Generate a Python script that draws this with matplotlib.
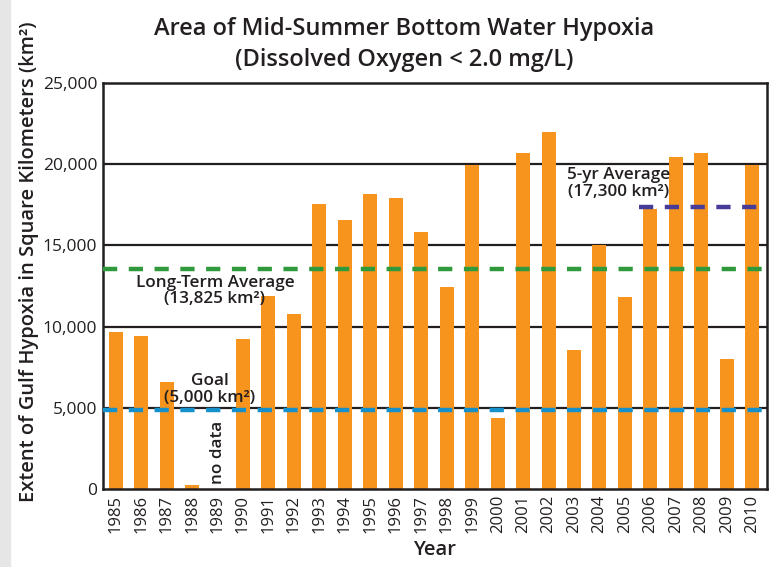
import matplotlib
matplotlib.use("Agg")
import matplotlib.pyplot as plt
import numpy as np

years = [str(y) for y in range(1985, 2011)]
area_km2 = [9700, 9400, 6600, 250, np.nan, 9250, 11900, 10800, 17550, 16550,
            18150, 17900, 15800, 12450, 19950, 4400, 20700, 21950, 8550, 15050,
            11850, 17250, 20450, 20700, 8000, 19950]
long_term_avg = 13550
goal = 4900
five_yr_avg = 17350
five_yr_start = "2006"
yticks = [0, 5000, 10000, 15000, 20000, 25000]
ytick_labels = ["0", "5,000", "10,000", "15,000", "20,000", "25,000"]

FONT = ["Open Sans", "DejaVu Sans"]
plt.rcParams["font.family"] = FONT
TXT = "#231F20"
ORANGE = "#F7941D"
GREEN = "#2E9A3C"
BLUE = "#1590CB"
PURPLE = "#473C97"

fig = plt.figure(figsize=(7.74, 5.67), dpi=100)
fig.patch.set_facecolor("white")
fig.patches.append(plt.Rectangle((0, 0), 0.013, 1, transform=fig.transFigure,
                                 color="#E6E6E6", zorder=0))
ax = fig.add_axes([0.133, 0.137, 0.858, 0.717])

x = np.arange(len(years))
ax.set_xlim(-0.5, len(years) - 0.42)
ax.set_ylim(0, 25000)

for yv in yticks[1:-1]:
    ax.axhline(yv, color=TXT, lw=1.6, zorder=1)

ax.bar(x, area_km2, width=0.55, color=ORANGE, zorder=2)

dash = dict(lw=3.2, dashes=(3.2, 2.6), zorder=3)
ax.axhline(long_term_avg, color=GREEN, **dash)
ax.axhline(goal, color=BLUE, **dash)
i0 = years.index(five_yr_start)
ax.plot([i0 - 0.45, len(years) - 0.42], [five_yr_avg, five_yr_avg],
        color=PURPLE, solid_capstyle="butt", **dash)

for s in ax.spines.values():
    s.set_color(TXT)
    s.set_linewidth(1.8)

ax.set_yticks(yticks)
ax.set_yticklabels(ytick_labels, fontsize=12.5)
ax.set_xticks(x)
ax.set_xticklabels(years, rotation=90, fontsize=12)
ax.tick_params(length=0, colors=TXT, pad=4)

ax.set_ylabel("Extent of Gulf Hypoxia in Square Kilometers (km²)",
              fontsize=14.5, fontweight="semibold", color=TXT)
ax.yaxis.set_label_coords(-0.097, 0.56)
ax.set_xlabel("Year", fontsize=14.5, fontweight="semibold", color=TXT, labelpad=5)

fig.text(0.522, 0.949, "Area of Mid-Summer Bottom Water Hypoxia",
         ha="center", va="center", fontsize=17, fontweight="semibold", color=TXT)
fig.text(0.522, 0.894, "(Dissolved Oxygen < 2.0 mg/L)",
         ha="center", va="center", fontsize=17, fontweight="semibold", color=TXT)

ann = dict(ha="center", va="center", fontsize=12.3, fontweight="semibold",
           color=TXT, linespacing=1.05, zorder=4)
ax.text(3.9, 12200, "Long-Term Average\n(13,825 km²)", **ann)
ax.text(3.7, 6150, "Goal\n(5,000 km²)", **ann)
ax.text(19.75, 18800, "5-yr Average\n(17,300 km²)", **ann)
ax.text(4, 300, "no data", ha="center", va="bottom", rotation=90,
        fontsize=12.3, fontweight="semibold", color=TXT)

fig.savefig("out.png", dpi=100)
